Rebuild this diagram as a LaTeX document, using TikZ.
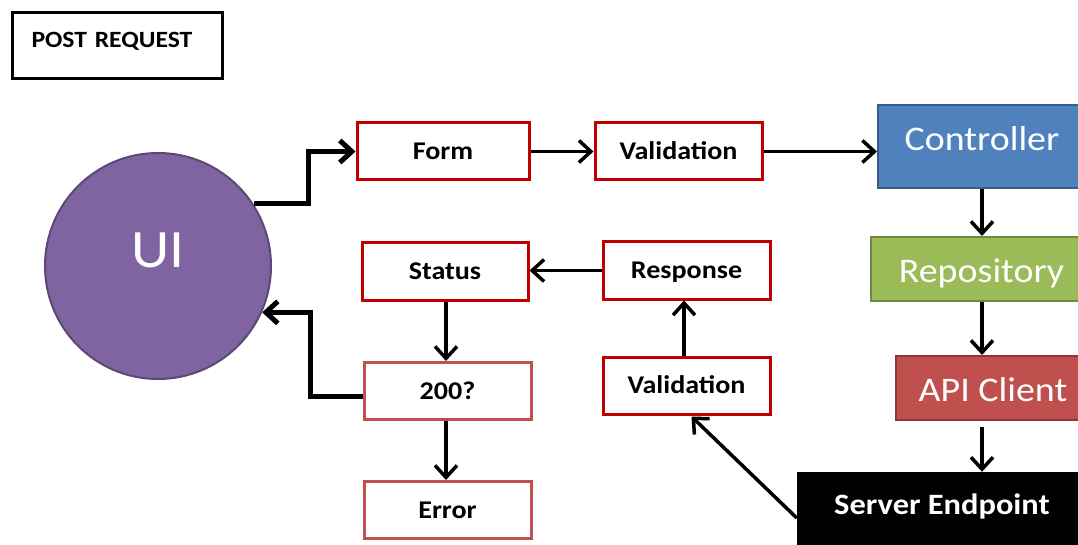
\documentclass[tikz,border=0pt]{standalone}
\usepackage{fontspec}
\setmainfont{Carlito}[FakeStretch=1.1]
\usetikzlibrary{arrows.meta,calc}

\definecolor{uipurple}{HTML}{8064A2}
\definecolor{uipurpleline}{HTML}{5C4776}
\definecolor{darkred}{HTML}{C00000}
\definecolor{softred}{HTML}{C0504D}
\definecolor{softredline}{HTML}{8C3836}
\definecolor{ctrlblue}{HTML}{4F81BD}
\definecolor{ctrlblueline}{HTML}{385D8A}
\definecolor{repogreen}{HTML}{9BBB59}
\definecolor{repogreenline}{HTML}{71893F}

% baseline sits half of (text height - text depth) below the node centre
\tikzset{
  stepbox/.style={draw=darkred, line width=3pt, fill=white, inner sep=0pt,
    minimum width=167pt, minimum height=57pt, text height=16.4pt, text depth=0pt,
    font=\fontsize{25.5}{29}\selectfont\bfseries},
  checkbox/.style={stepbox, draw=softred},
  layerbox/.style={line width=2pt, inner sep=0pt, text=white, text depth=0pt,
    font=\fontsize{34.5}{38}\selectfont},
  arr/.style={line width=3.5pt, -{Straight Barb[length=12pt,width=22pt]}},
  heavyarr/.style={arr, line width=5pt},
}

\begin{document}
\begin{tikzpicture}[x=1pt,y=-1pt]
\useasboundingbox (0,0) rectangle (1078,545);
\clip (0,0) rectangle (1078,545);

% title box, text in its upper left corner
\node[draw=black, line width=3pt, anchor=north west, inner xsep=19pt, inner ysep=0pt,
      text width=172pt, align=left, text height=35pt, text depth=31pt,
      font=\fontsize{23.3}{26}\selectfont\bfseries] (post) at (11,11) {POST REQUEST};

% client side
\node[circle, fill=uipurple, draw=uipurpleline, line width=2pt, minimum size=226pt,
      inner sep=0pt, text=white, text height=3pt, text depth=0pt,
      font=\fontsize{54}{56}\selectfont] (ui) at (158,266) {UI};

\node[stepbox, minimum width=172pt] (form) at (443,151.5) {Form};
\node[stepbox] (val1) at (678.5,151.5) {Validation};
\node[stepbox, minimum width=166pt] (status) at (445,271.5) {Status};
\node[stepbox] (resp) at (686.5,270.5) {Response};
\node[checkbox] (ok) at (447.5,391) {200?};
\node[checkbox] (err) at (447.5,510) {Error};
\node[stepbox] (val2) at (686.5,385.5) {Validation};

% application layers
\node[layerbox, fill=ctrlblue, draw=ctrlblueline, minimum width=208pt,
      minimum height=83pt, text height=9pt] (ctrl) at (982,146.5) {Controller};
\node[layerbox, fill=repogreen, draw=repogreenline, minimum width=221pt,
      minimum height=64pt, text height=26pt] (repo) at (981.5,269) {Repository};
\node[layerbox, fill=softred, draw=softredline, minimum width=194pt,
      minimum height=64pt, text height=26pt] (api) at (993,388) {API Client};
\node[fill=black, inner sep=0pt, minimum width=290pt, minimum height=76pt,
      text height=9pt, text depth=0pt,
      text=white, font=\fontsize{29.5}{33}\selectfont\bfseries] (server) at (942,510) {Server Endpoint};

% request path
\coordinate (j1) at (308,0);
\draw[heavyarr] (ui.33) -- (ui.33 -| j1) |- (form.west);
\draw[arr] (form.east) -- (val1.west);
\draw[arr] (val1.east) -- (ctrl.west |- val1.east);
\draw[arr] (ctrl.south -| 982,0) -- (repo.north -| 982,0);
\draw[arr] (repo.south -| 982,0) -- (api.north -| 982,0);
\draw[arr] ($(api.south -| 982,0)+(0,6)$) -- (server.north -| 982,0);

% response path
\draw[arr] ($(server.west)+(0,8)$) -- ($(val2.south)+(5,1)$);
\draw[arr] (val2.north -| 684,0) -- (resp.south -| 684,0);
\draw[arr] (resp.west) -- (status.east |- resp.west);
\draw[arr] (status.south -| 446,0) -- (ok.north -| 446,0);
\draw[arr] (ok.south -| 446,0) -- (err.north -| 446,0);
\coordinate (j2) at (310,0);
\draw[heavyarr] ($(ok.west)+(0,5)$) -| (ui.-24 -| j2) -- (ui.-24);
\end{tikzpicture}
\end{document}
